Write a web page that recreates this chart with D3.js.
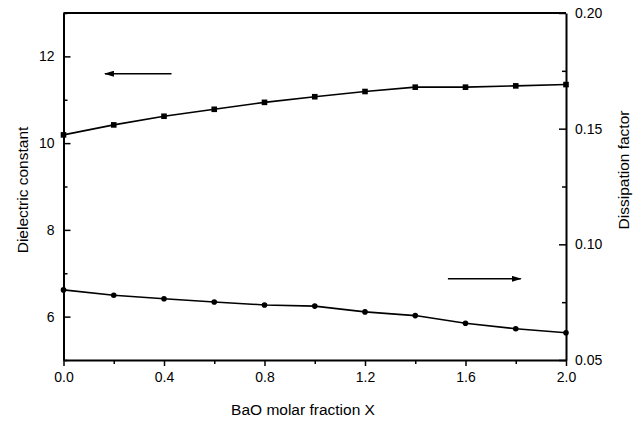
<!DOCTYPE html>
<html>
<head>
<meta charset="utf-8">
<script src="https://cdn.jsdelivr.net/npm/d3@7"></script>
<style>
  body { margin: 0; background: #fff; }
  text { font-family: "Liberation Sans", Arial, sans-serif; fill: #000; }
</style>
</head>
<body>
<div id="chart"></div>
<script>
// BaO molar fraction X
var xValues = [0.0, 0.2, 0.4, 0.6, 0.8, 1.0, 1.2, 1.4, 1.6, 1.8, 2.0];
// Dielectric constant (left axis, squares)
var dielectric = [10.19, 10.42, 10.62, 10.78, 10.94, 11.07, 11.19, 11.29, 11.29, 11.32, 11.35];
// Dissipation factor (right axis, circles)
var dissipation = [0.0803, 0.0780, 0.0765, 0.0751, 0.0738, 0.0733, 0.0708, 0.0692, 0.0659, 0.0635, 0.0618];

var xTicks = [0.0, 0.4, 0.8, 1.2, 1.6, 2.0];
var leftTicks = [6, 8, 10, 12];
var rightTicks = [0.05, 0.10, 0.15, 0.20];

var width = 641,
    height = 426;
var margin = {top: 13, right: 75, bottom: 66, left: 63.5};

var svg = d3.select("#chart").append("svg")
    .attr("width", width)
    .attr("height", height);

var x = d3.scaleLinear().domain([0, 2]).range([margin.left, width - margin.right]);
var yL = d3.scaleLinear().domain([5, 13]).range([height - margin.bottom, margin.top]);
var yR = d3.scaleLinear().domain([0.05, 0.20]).range([height - margin.bottom, margin.top]);

var x0 = x.range()[0], x1 = x.range()[1];
var yb = yL.range()[0], yt = yL.range()[1];

// frame top line
svg.append("line")
    .attr("x1", x0).attr("x2", x1).attr("y1", yt).attr("y2", yt)
    .attr("stroke", "#000").attr("stroke-width", 2);

// x axis, ticks outward
var xAxis = svg.append("g")
    .attr("transform", "translate(0," + yb + ")")
    .call(d3.axisBottom(x).tickValues(xTicks).tickFormat(d3.format(".1f"))
        .tickSizeInner(6).tickSizeOuter(0).tickPadding(6));
svg.append("g")
    .attr("transform", "translate(0," + yb + ")")
    .call(d3.axisBottom(x).tickValues(d3.range(0.2, 2, 0.4)).tickFormat("")
        .tickSizeInner(4).tickSizeOuter(0))
    .select(".domain").remove();

// left axis, ticks inward
var leftAxis = svg.append("g")
    .attr("transform", "translate(" + x0 + ",0)")
    .call(d3.axisRight(yL).tickValues(leftTicks).tickFormat(d3.format("d"))
        .tickSizeInner(7).tickSizeOuter(0).tickPadding(0));
leftAxis.selectAll(".tick text")
    .attr("x", -9).attr("text-anchor", "end");
svg.append("g")
    .attr("transform", "translate(" + x0 + ",0)")
    .call(d3.axisRight(yL).tickValues([5, 7, 9, 11, 13]).tickFormat("")
        .tickSizeInner(4).tickSizeOuter(0))
    .select(".domain").remove();

// right axis, ticks inward
var rightAxis = svg.append("g")
    .attr("transform", "translate(" + x1 + ",0)")
    .call(d3.axisLeft(yR).tickValues(rightTicks).tickFormat(d3.format(".2f"))
        .tickSizeInner(7).tickSizeOuter(0).tickPadding(0));
rightAxis.selectAll(".tick text")
    .attr("x", 9).attr("text-anchor", "start");
svg.append("g")
    .attr("transform", "translate(" + x1 + ",0)")
    .call(d3.axisLeft(yR).tickValues([0.075, 0.125, 0.175]).tickFormat("")
        .tickSizeInner(4).tickSizeOuter(0))
    .select(".domain").remove();

svg.selectAll(".domain").attr("stroke-width", 2);
svg.selectAll(".tick line").attr("stroke-width", 1.5);
svg.selectAll(".tick text")
    .style("font-family", "'Liberation Sans', Arial, sans-serif")
    .style("font-size", "14px");

// axis titles
svg.append("text")
    .attr("transform", "translate(27.5," + 190 + ") rotate(-90)")
    .attr("text-anchor", "middle")
    .style("font-size", "15.5px")
    .text("Dielectric constant");
svg.append("text")
    .attr("transform", "translate(628.5," + 170 + ") rotate(-90)")
    .attr("text-anchor", "middle")
    .style("font-size", "15.5px")
    .text("Dissipation factor");
svg.append("text")
    .attr("x", 303)
    .attr("y", 415)
    .attr("text-anchor", "middle")
    .style("font-size", "15.5px")
    .text("BaO molar fraction X");

// series
var lineL = d3.line()
    .x(function(d, i) { return x(xValues[i]); })
    .y(function(d) { return yL(d); });
var lineR = d3.line()
    .x(function(d, i) { return x(xValues[i]); })
    .y(function(d) { return yR(d); });

svg.append("path")
    .datum(dielectric)
    .attr("d", lineL)
    .attr("fill", "none")
    .attr("stroke", "#000")
    .attr("stroke-width", 1.6);
svg.selectAll(".sq")
    .data(dielectric)
    .enter().append("rect")
    .attr("class", "sq")
    .attr("x", function(d, i) { return x(xValues[i]) - 2.8; })
    .attr("y", function(d) { return yL(d) - 2.8; })
    .attr("width", 5.6)
    .attr("height", 5.6)
    .attr("fill", "#000");

svg.append("path")
    .datum(dissipation)
    .attr("d", lineR)
    .attr("fill", "none")
    .attr("stroke", "#000")
    .attr("stroke-width", 1.6);
svg.selectAll(".dot")
    .data(dissipation)
    .enter().append("circle")
    .attr("class", "dot")
    .attr("cx", function(d, i) { return x(xValues[i]); })
    .attr("cy", function(d) { return yR(d); })
    .attr("r", 2.8)
    .attr("fill", "#000");

// arrows pointing to the axis each curve belongs to
svg.append("defs").append("marker")
    .attr("id", "head")
    .attr("viewBox", "0 0 10 6")
    .attr("refX", 9)
    .attr("refY", 3)
    .attr("markerWidth", 10)
    .attr("markerHeight", 6)
    .attr("markerUnits", "userSpaceOnUse")
    .attr("orient", "auto")
    .append("path")
    .attr("d", "M0,0 L10,3 L0,6 Z")
    .attr("fill", "#000");

svg.append("line")
    .attr("x1", x(0.43)).attr("x2", x(0.165))
    .attr("y1", yL(11.6)).attr("y2", yL(11.6))
    .attr("stroke", "#000").attr("stroke-width", 1.4)
    .attr("marker-end", "url(#head)");
svg.append("line")
    .attr("x1", x(1.53)).attr("x2", x(1.82))
    .attr("y1", yR(0.0851)).attr("y2", yR(0.0851))
    .attr("stroke", "#000").attr("stroke-width", 1.4)
    .attr("marker-end", "url(#head)");
</script>
</body>
</html>
